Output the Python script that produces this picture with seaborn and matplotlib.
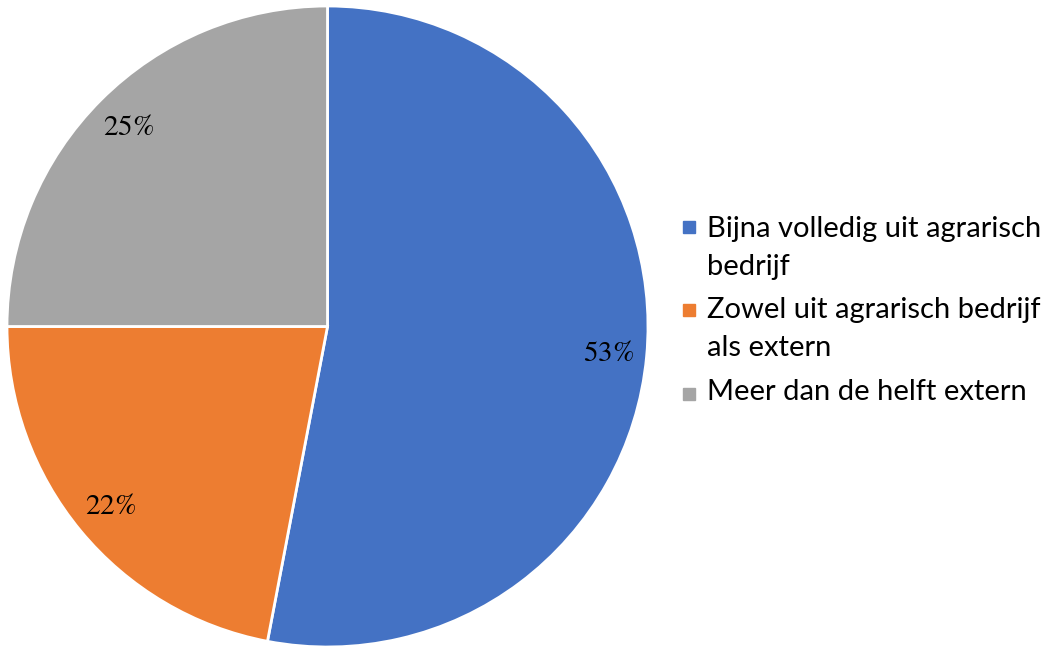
import matplotlib
matplotlib.use("Agg")
import matplotlib.pyplot as plt
import seaborn as sns
from matplotlib.patches import Rectangle

# data
categories = [
    "Bijna volledig uit agrarisch\nbedrijf",
    "Zowel uit agrarisch bedrijf\nals extern",
    "Meer dan de helft extern",
]
shares = [53, 22, 25]
colors = ["#4472C4", "#ED7D31", "#A5A5A5"]

sns.set_style("white")
plt.rcParams["mathtext.fontset"] = "stix"
plt.rcParams["font.family"] = ["Lato", "DejaVu Sans"]
palette = sns.color_palette(colors)

W, H = 1050, 649
fig = plt.figure(figsize=(W / 100, H / 100), dpi=100)
ax = fig.add_axes([7 / W, 2 / H, 641 / W, 641 / H])

wedges, texts, autotexts = ax.pie(
    shares,
    colors=palette,
    startangle=90,
    counterclock=False,
    autopct=lambda p: r"$\mathit{%d}\%%$" % round(p),
    pctdistance=0.88,
    wedgeprops=dict(edgecolor="white", linewidth=2),
    textprops=dict(fontsize=21, color="black"),
)
ax.set_aspect("equal")
ax.set_xlim(-1, 1)
ax.set_ylim(-1, 1)
ax.axis("off")

# legend drawn by hand: square next to the first line of each label
square_tops = [221, 304, 388]
baselines = [237, 318, 400]
line_gap = 38
for label, col, top, base in zip(categories, palette, square_tops, baselines):
    fig.patches.append(Rectangle((683 / W, (H - top - 12) / H), 12 / W, 12 / H,
                                 transform=fig.transFigure, color=col))
    for i, line in enumerate(label.split("\n")):
        fig.text(707 / W, (H - base - i * line_gap) / H, line, fontsize=21,
                 va="baseline", ha="left", color="black")

fig.savefig("out.png", dpi=100)
